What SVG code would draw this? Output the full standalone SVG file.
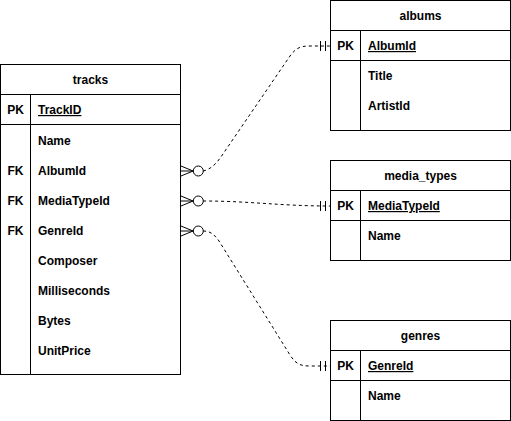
<svg xmlns="http://www.w3.org/2000/svg" width="511" height="421" viewBox="0 0 511 421">
<style>
.box{fill:#fff;stroke:#000;stroke-width:1}
.ln{stroke:#000;stroke-width:1;fill:none}
text{font-family:"Liberation Sans",Arial,sans-serif;font-size:12px;font-weight:bold;fill:#000}
.t{text-anchor:middle}
.k{text-anchor:middle}
.u{text-decoration:underline}
.edge{stroke:#000;stroke-width:1;fill:none;stroke-dasharray:3 3}
.mk{stroke:#000;stroke-width:1;fill:#fff}
</style>
<rect width="511" height="421" fill="#fff"/>
<g id="connectors">
<path class="edge" d="M203,171 C213,169 219,160 225,151 L290,56 C296,48 300,46 310,46 L330,46"/>
<path class="edge" d="M203,201 C250,201 280,206 330,206"/>
<path class="edge" d="M203,231 C210,231 214,234 219,241 L290,355 C296,364 300,366 310,366 L330,366"/>
<g id="many-1"><path class="ln" d="M181,166 L193,171 L181,176 M181,171 L193,171"/><circle class="mk" cx="198.3" cy="171" r="5"/></g>
<g id="many-2"><path class="ln" d="M181,196 L193,201 L181,206 M181,201 L193,201"/><circle class="mk" cx="198.3" cy="201" r="5"/></g>
<g id="many-3"><path class="ln" d="M181,226 L193,231 L181,236 M181,231 L193,231"/><circle class="mk" cx="198.3" cy="231" r="5"/></g>
<path class="ln" d="M320.5,41 V51 M325.5,41 V51"/>
<path class="ln" d="M320.5,201 V211 M325.5,201 V211"/>
<path class="ln" d="M320.5,361 V371 M325.5,361 V371"/>
</g>
<g id="tracks">
<rect class="box" x="0.5" y="64.5" width="180" height="310"/>
<path class="ln" d="M0.5,94.5 H180.5 M0.5,124.5 H180.5 M30.5,94.5 V374.5"/>
<text class="t" x="90.5" y="84">tracks</text>
<text class="k" x="15.5" y="114">PK</text>
<text class="u" x="38" y="114">TrackID</text>
<text x="38" y="145">Name</text>
<text class="k" x="15.5" y="175">FK</text>
<text x="38" y="175">AlbumId</text>
<text class="k" x="15.5" y="205">FK</text>
<text x="38" y="205">MediaTypeId</text>
<text class="k" x="15.5" y="235">FK</text>
<text x="38" y="235">GenreId</text>
<text x="38" y="265">Composer</text>
<text x="38" y="295">Milliseconds</text>
<text x="38" y="325">Bytes</text>
<text x="38" y="355">UnitPrice</text>
</g>
<g id="albums">
<rect class="box" x="330.5" y="0.5" width="180" height="130"/>
<path class="ln" d="M330.5,30.5 H510.5 M330.5,60.5 H510.5 M360.5,30.5 V130.5"/>
<text class="t" x="420.5" y="20">albums</text>
<text class="k" x="345.5" y="50">PK</text>
<text class="u" x="368" y="50">AlbumId</text>
<text x="368" y="80">Title</text>
<text x="368" y="110">ArtistId</text>
</g>
<g id="media_types">
<rect class="box" x="330.5" y="160.5" width="180" height="100"/>
<path class="ln" d="M330.5,190.5 H510.5 M330.5,220.5 H510.5 M360.5,190.5 V260.5"/>
<text class="t" x="420.5" y="180">media_types</text>
<text class="k" x="345.5" y="210">PK</text>
<text class="u" x="368" y="210">MediaTypeId</text>
<text x="368" y="240">Name</text>
</g>
<g id="genres">
<rect class="box" x="330.5" y="320.5" width="180" height="100"/>
<path class="ln" d="M330.5,350.5 H510.5 M330.5,380.5 H510.5 M360.5,350.5 V420.5"/>
<text class="t" x="420.5" y="340">genres</text>
<text class="k" x="345.5" y="370">PK</text>
<text class="u" x="368" y="370">GenreId</text>
<text x="368" y="400">Name</text>
</g>
</svg>
